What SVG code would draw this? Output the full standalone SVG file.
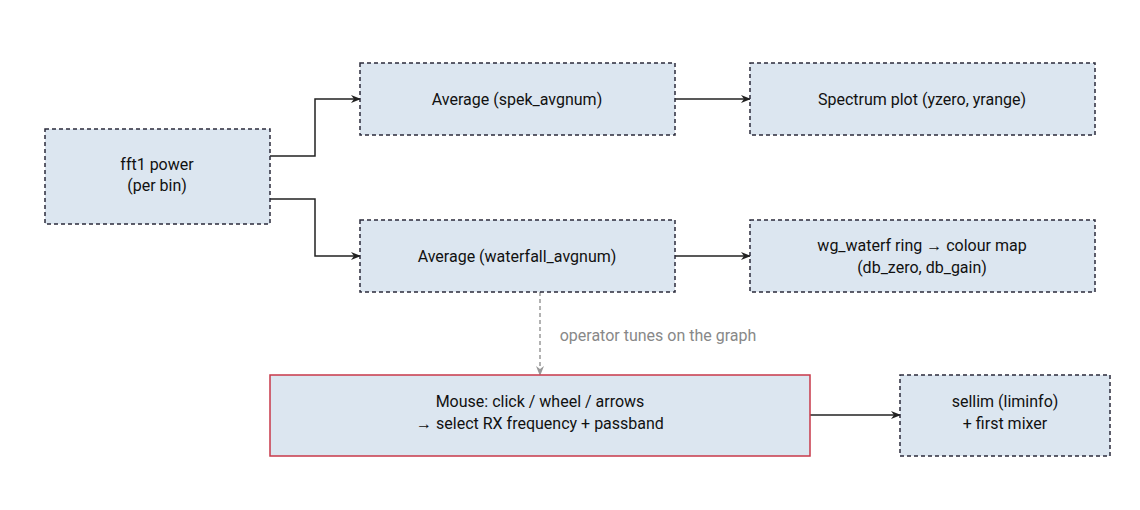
<svg xmlns="http://www.w3.org/2000/svg" width="1140" height="510" viewBox="0 0 1140 510">
<style>
.n{fill:#dce6f0;stroke:#2b2b3b;stroke-width:1.5;stroke-dasharray:4 3}
.r{fill:#dce6f0;stroke:#c8394a;stroke-width:1.5}
text{font-family:Roboto,"Liberation Sans",sans-serif;font-size:16px;fill:#111;text-anchor:middle}
.e{fill:none;stroke:#222;stroke-width:1.5;marker-end:url(#a)}
.d{fill:none;stroke:#999;stroke-width:1.5;stroke-dasharray:4 3;marker-end:url(#g)}
</style>
<defs>
<marker id="a" markerWidth="10" markerHeight="8" refX="9" refY="4" orient="auto" markerUnits="userSpaceOnUse"><path d="M0,0L10,4L0,8L3,4z" fill="#222"/></marker>
<marker id="g" markerWidth="10" markerHeight="8" refX="9" refY="4" orient="auto" markerUnits="userSpaceOnUse"><path d="M0,0L10,4L0,8L3,4z" fill="#999"/></marker>
</defs>
<g id="edges">
<path class="e" d="M270,156H315V99H360"/>
<path class="e" d="M270,199H315V256H360"/>
<path class="e" d="M675,99H750"/>
<path class="e" d="M675,256H750"/>
<path class="d" d="M540,292V375"/>
<text x="658" y="341" style="fill:#888">operator tunes on the graph</text>
<path class="e" d="M810,415H900"/>
</g>
<g id="fft"><rect class="n" x="45" y="129" width="225" height="95"/><text x="157" y="170">fft1 power</text><text x="157" y="191">(per bin)</text></g>
<g id="avg1"><rect class="n" x="360" y="63" width="315" height="72"/><text x="517" y="105">Average (spek_avgnum)</text></g>
<g id="spec"><rect class="n" x="750" y="63" width="345" height="72"/><text x="922" y="105">Spectrum plot (yzero, yrange)</text></g>
<g id="avg2"><rect class="n" x="360" y="220" width="315" height="72"/><text x="517" y="262">Average (waterfall_avgnum)</text></g>
<g id="wf"><rect class="n" x="750" y="220" width="345" height="72"/><text x="922" y="251">wg_waterf ring → colour map</text><text x="922" y="273">(db_zero, db_gain)</text></g>
<g id="mouse"><rect class="r" x="270" y="375" width="540" height="81"/><text x="540" y="407">Mouse: click / wheel / arrows</text><text x="540" y="429">→ select RX frequency + passband</text></g>
<g id="sellim"><rect class="n" x="900" y="375" width="210" height="81"/><text x="1005" y="407">sellim (liminfo)</text><text x="1005" y="429">+ first mixer</text></g>
</svg>
